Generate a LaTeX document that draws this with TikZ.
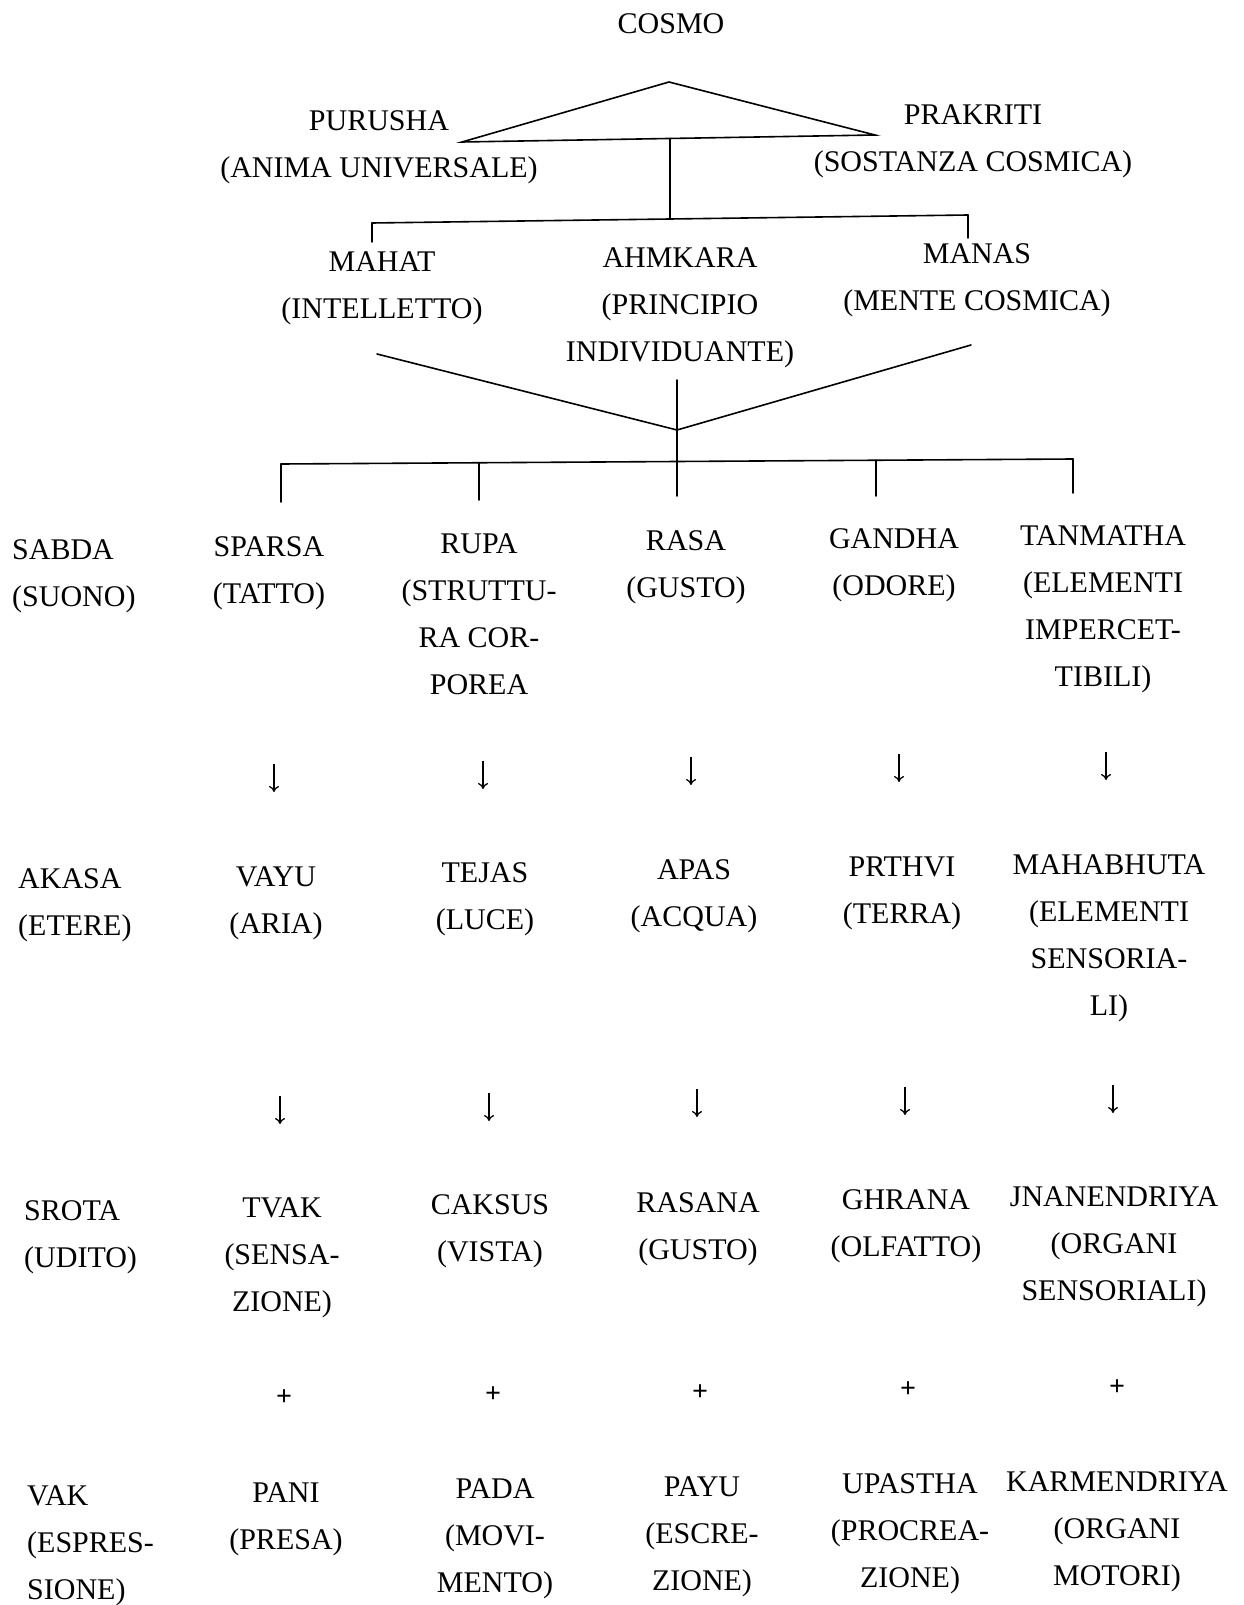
\documentclass[tikz,border=0pt]{standalone}
\usepackage{fontspec}
\setmainfont{Liberation Serif}
\usetikzlibrary{arrows.meta}
\newcommand\firstln{\rule{0pt}{30pt}}
\begin{document}
\begin{tikzpicture}[x=1pt,y=-1pt,
  lbl/.style={font=\fontsize{30}{47}\selectfont, inner sep=0pt, align=center, anchor=north},
  lft/.style={lbl, align=left, anchor=north west},
  ln/.style={line width=1.6pt, line cap=round, line join=miter},
  darr/.style={line width=1.5pt, -{To[length=6pt,width=10pt,line width=1.3pt]}},
  plus/.style={font=\fontsize{28}{30}\selectfont\bfseries, inner sep=0pt}]
\useasboundingbox[fill=white] (0,0) rectangle (1243,1605);
% top
\node[lbl] (cosmo) at (671,3) {\firstln COSMO};
\node[lbl] (purusha) at (379,100) {\firstln PURUSHA\\(ANIMA UNIVERSALE)};
\node[lbl] (prakriti) at (973,94) {\firstln PRAKRITI\\(SOSTANZA COSMICA)};
\node[lbl] (mahat) at (382,241) {\firstln MAHAT\\(INTELLETTO)};
\node[lbl] (ahmkara) at (680,237) {\firstln AHMKARA\\(PRINCIPIO\\INDIVIDUANTE)};
\node[lbl] (manas) at (977,233) {\firstln MANAS\\(MENTE COSMICA)};
% triangle
\coordinate (apex) at (669,82);
\coordinate (tl) at (462,142);
\coordinate (tr) at (875,135);
\draw[ln] (tl) -- (apex) -- (tr) -- cycle;
\coordinate (tmid) at (670,138.5);
\coordinate (hmid) at (670,219);
\draw[ln] (tmid) -- (hmid);
\coordinate (h1) at (372,223);
\coordinate (h2) at (968,215);
\draw[ln] (h1) -- (h2);
\coordinate (h1d) at (372,242);
\coordinate (h2d) at (968,238);
\draw[ln] (h1) -- (h1d);
\draw[ln] (h2) -- (h2d);
% V
\coordinate (vl) at (377,354);
\coordinate (vr) at (971,345);
\coordinate (vb) at (677,430);
\draw[ln] (vl) -- (vb) -- (vr);
\coordinate (vtop) at (677,380);
\coordinate (bmid) at (677,461.5);
\draw[ln] (vtop) -- (bmid);
\coordinate (b1) at (281,464);
\coordinate (b5) at (1073,459);
\draw[ln] (b1) -- (b5);
\coordinate (b2) at (479,462.75);
\coordinate (b4) at (876,460.2);
\coordinate (b1d) at (281,502);
\coordinate (b2d) at (479,500);
\coordinate (b3d) at (677,496);
\coordinate (b4d) at (876,496);
\coordinate (b5d) at (1073,493);
\draw[ln] (b1) -- (b1d);
\draw[ln] (b2) -- (b2d);
\draw[ln] (bmid) -- (b3d);
\draw[ln] (b4) -- (b4d);
\draw[ln] (b5) -- (b5d);
% row 1
\node[lft] (sabda) at (12,529) {\firstln SABDA\\(SUONO)};
\node[lbl] (sparsa) at (269,526) {\firstln SPARSA\\(TATTO)};
\node[lbl] (rupa) at (479,523) {\firstln RUPA\\(STRUTTU-\\RA COR-\\POREA};
\node[lbl] (rasa) at (686,520) {\firstln RASA\\(GUSTO)};
\node[lbl] (gandha) at (894,518) {\firstln GANDHA\\(ODORE)};
\node[lbl] (tanmatha) at (1103,515) {\firstln TANMATHA\\(ELEMENTI\\IMPERCET-\\TIBILI)};
% arrows 1
\coordinate (a11t) at (274,764); \coordinate (a11b) at (274,792);
\coordinate (a12t) at (483,761); \coordinate (a12b) at (483,789);
\coordinate (a13t) at (691,757); \coordinate (a13b) at (691,785);
\coordinate (a14t) at (899,754); \coordinate (a14b) at (899,782);
\coordinate (a15t) at (1106,752); \coordinate (a15b) at (1106,780);
\foreach \i in {11,12,13,14,15} \draw[darr] (a\i t) -- (a\i b);
% row 2
\node[lft] (akasa) at (18,858) {\firstln AKASA\\(ETERE)};
\node[lbl] (vayu) at (276,856) {\firstln VAYU\\(ARIA)};
\node[lbl] (tejas) at (485,852) {\firstln TEJAS\\(LUCE)};
\node[lbl] (apas) at (694,849) {\firstln APAS\\(ACQUA)};
\node[lbl] (prthvi) at (902,846) {\firstln PRTHVI\\(TERRA)};
\node[lbl] (mahabhuta) at (1109,844) {\firstln MAHABHUTA\\(ELEMENTI\\SENSORIA-\\LI)};
% arrows 2
\coordinate (a21t) at (280,1096); \coordinate (a21b) at (280,1124);
\coordinate (a22t) at (489,1093); \coordinate (a22b) at (489,1121);
\coordinate (a23t) at (697,1089); \coordinate (a23b) at (697,1117);
\coordinate (a24t) at (905,1087); \coordinate (a24b) at (905,1115);
\coordinate (a25t) at (1113,1085); \coordinate (a25b) at (1113,1113);
\foreach \i in {21,22,23,24,25} \draw[darr] (a\i t) -- (a\i b);
% row 3
\node[lft] (srota) at (24,1190) {\firstln SROTA\\(UDITO)};
\node[lbl] (tvak) at (282,1187) {\firstln TVAK\\(SENSA-\\ZIONE)};
\node[lbl] (caksus) at (490,1184) {\firstln CAKSUS\\(VISTA)};
\node[lbl] (rasana) at (698,1182) {\firstln RASANA\\(GUSTO)};
\node[lbl] (ghrana) at (906,1179) {\firstln GHRANA\\(OLFATTO)};
\node[lbl] (jnan) at (1114,1176) {\firstln JNANENDRIYA\\(ORGANI\\SENSORIALI)};
% plus
\node[plus] (p1) at (284,1398) {+};
\node[plus] (p2) at (493,1395) {+};
\node[plus] (p3) at (700,1393) {+};
\node[plus] (p4) at (908,1390) {+};
\node[plus] (p5) at (1117,1388) {+};
% row 4
\node[lft] (vak) at (27,1475) {\firstln VAK\\(ESPRES-\\SIONE)};
\node[lbl] (pani) at (286,1472) {\firstln PANI\\(PRESA)};
\node[lbl] (pada) at (495,1468) {\firstln PADA\\(MOVI-\\MENTO)};
\node[lbl] (payu) at (702,1466) {\firstln PAYU\\(ESCRE-\\ZIONE)};
\node[lbl] (upastha) at (910,1463) {\firstln UPASTHA\\(PROCREA-\\ZIONE)};
\node[lbl] (karm) at (1117,1461) {\firstln KARMENDRIYA\\(ORGANI\\MOTORI)};
\end{tikzpicture}
\end{document}
